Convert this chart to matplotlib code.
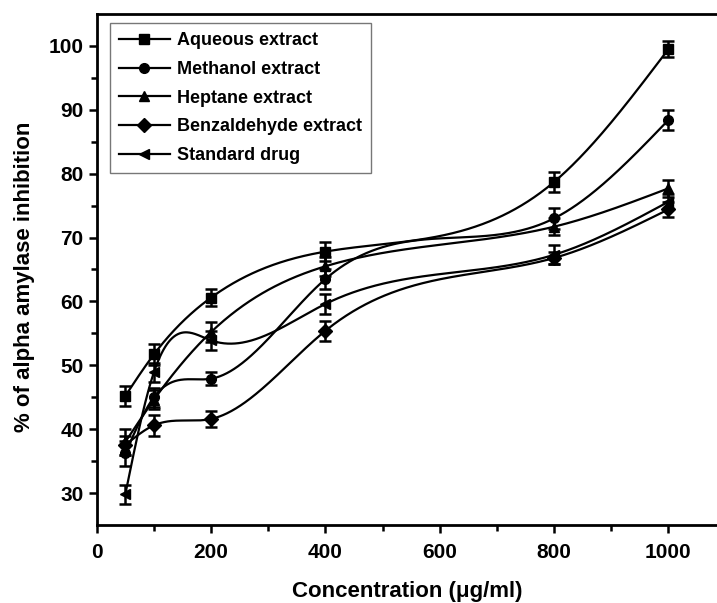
"""Alpha amylase inhibition of plant extracts vs. concentration."""
import numpy as np
import matplotlib
matplotlib.use("Agg")
import matplotlib.pyplot as plt
from matplotlib.lines import Line2D

# =============================================================================
# DATA
# =============================================================================
conc = [50, 100, 200, 400, 800, 1000]

aqueous = [45.2, 51.7, 60.6, 67.8, 78.7, 99.5]
aqueous_err = [1.5, 1.6, 1.3, 1.5, 1.5, 1.2]

methanol = [36.2, 45.0, 47.9, 63.5, 73.0, 88.4]
methanol_err = [2.0, 1.5, 1.0, 1.5, 1.6, 1.6]

heptane = [38.0, 44.6, 55.2, 65.5, 71.7, 77.7]
heptane_err = [2.0, 1.5, 1.5, 1.5, 1.3, 1.3]

benzaldehyde = [37.5, 40.6, 41.6, 55.4, 66.8, 74.4]
benzaldehyde_err = [1.5, 1.6, 1.3, 1.6, 1.0, 1.2]

standard = [29.8, 48.9, 53.9, 59.6, 67.3, 75.6]
standard_err = [1.5, 1.5, 1.5, 1.5, 1.5, 1.2]

labels = ["Aqueous extract", "Methanol extract", "Heptane extract",
          "Benzaldehyde extract", "Standard drug"]
markers = ["s", "o", "^", "D", "<"]


def natural_spline(x, y, xs):
    """Natural cubic spline through (x, y), evaluated at xs."""
    x = np.asarray(x, float)
    y = np.asarray(y, float)
    n = len(x)
    h = np.diff(x)
    A = np.zeros((n, n))
    r = np.zeros(n)
    A[0, 0] = A[-1, -1] = 1.0
    for i in range(1, n - 1):
        A[i, i - 1] = h[i - 1]
        A[i, i] = 2 * (h[i - 1] + h[i])
        A[i, i + 1] = h[i]
        r[i] = 6 * ((y[i + 1] - y[i]) / h[i] - (y[i] - y[i - 1]) / h[i - 1])
    M = np.linalg.solve(A, r)
    k = np.clip(np.searchsorted(x, xs) - 1, 0, n - 2)
    t0 = x[k + 1] - xs
    t1 = xs - x[k]
    hk = h[k]
    return (M[k] * t0**3 / (6 * hk) + M[k + 1] * t1**3 / (6 * hk)
            + (y[k] / hk - M[k] * hk / 6) * t0
            + (y[k + 1] / hk - M[k + 1] * hk / 6) * t1)


plt.rcParams["font.family"] = ["Liberation Sans", "DejaVu Sans"]
plt.rcParams["font.weight"] = "bold"

fig = plt.figure(figsize=(7.17, 6.03), dpi=100)
ax = fig.add_axes([0.1349, 0.1294, 0.8651, 0.8474])

series = [(aqueous, aqueous_err), (methanol, methanol_err),
          (heptane, heptane_err), (benzaldehyde, benzaldehyde_err),
          (standard, standard_err)]

xs = np.linspace(conc[0], conc[-1], 600)
handles = []
for (vals, err), lab, mk in zip(series, labels, markers):
    ax.plot(xs, natural_spline(conc, vals, xs), color="black", lw=1.6)
    ax.errorbar(conc, vals, yerr=err, fmt=mk, color="black", ms=7,
                elinewidth=1.8, capsize=4.5, capthick=1.8)
    handles.append(Line2D([], [], color="black", lw=1.6, marker=mk, ms=7))

ax.set_xlim(0, 1085)
ax.set_ylim(25, 105)
ax.set_xticks(np.arange(0, 1001, 200))
ax.set_xticks(np.arange(100, 1001, 200), minor=True)
ax.set_yticks(np.arange(30, 101, 10))
ax.set_yticks(np.arange(35, 101, 10), minor=True)
ax.tick_params(which="major", direction="out", length=6, width=1.8,
               labelsize=15)
ax.tick_params(axis="x", which="major", pad=7)
ax.tick_params(which="minor", direction="out", length=4, width=1.8)
for side in ("left", "bottom", "top"):
    ax.spines[side].set_linewidth(2.0)
ax.spines["right"].set_visible(False)

ax.set_xlabel("Concentration (\u03bcg/ml)", fontsize=16, fontweight="bold",
              labelpad=14)
ax.set_ylabel("% of alpha amylase inhibition", fontsize=16,
              fontweight="bold")
ax.yaxis.set_label_coords(-0.100, 0.485)

leg = ax.legend(handles, labels, loc="upper left",
                bbox_to_anchor=(0.0214, 0.982), fontsize=13,
                handlelength=2.8, handletextpad=0.4, labelspacing=0.65,
                borderpad=0.5, fancybox=False, borderaxespad=0)
leg.get_frame().set_edgecolor("#555555")
leg.get_frame().set_linewidth(1.0)

fig.savefig("out.png", dpi=100)
